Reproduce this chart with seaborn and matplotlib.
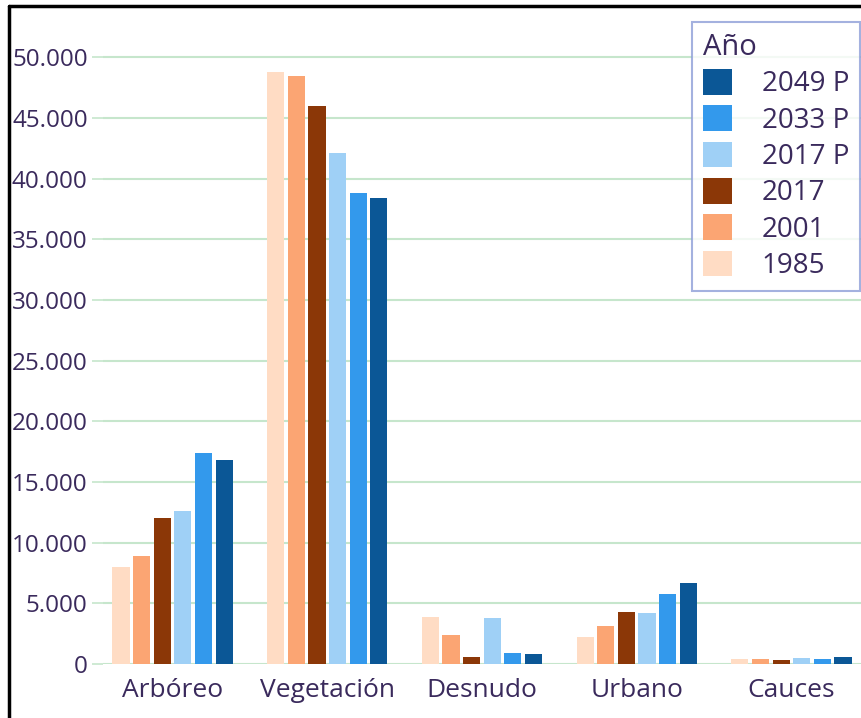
import matplotlib
matplotlib.use('Agg')
import matplotlib.pyplot as plt
import numpy as np
import pandas as pd
import seaborn as sns
from matplotlib.lines import Line2D
from matplotlib.ticker import FuncFormatter

# land cover area by class and year
categories = ['Arbóreo', 'Vegetación', 'Desnudo', 'Urbano', 'Cauces']
years = ['1985', '2001', '2017', '2017 P', '2033 P', '2049 P']
values = {
    '1985':   [8000, 48800, 3850, 2200, 400],
    '2001':   [8900, 48500, 2350, 3100, 420],
    '2017':   [12000, 46000, 550, 4300, 330],
    '2017 P': [12600, 42100, 3770, 4200, 520],
    '2033 P': [17400, 38800, 900, 5750, 420],
    '2049 P': [16800, 38400, 800, 6700, 550],
}
colors = ['#ffdcc4', '#fba573', '#8b3707', '#9fd0f6', '#3399ec', '#0b5796']

text_color = '#3a2a5c'
grid_color = '#c6e6cc'

rows = []
for y in years:
    for cat, v in zip(categories, values[y]):
        rows.append({'clase': cat, 'año': y, 'area': v})
df = pd.DataFrame(rows)

sns.set_style('white')
plt.rcParams['font.family'] = ['Open Sans', 'DejaVu Sans']

fig = plt.figure(figsize=(8.61, 7.18), dpi=100)
ax = fig.add_axes([0.1196, 0.0752, 0.8804, 0.904])

sns.barplot(data=df, x='clase', y='area', hue='año', order=categories,
            hue_order=years, palette=colors, width=0.8, gap=0.17,
            saturation=1, linewidth=0, ax=ax, zorder=3)

ax.set_ylim(0, 53500)
ax.set_xlim(-0.45, 4.45)
ax.set_yticks(np.arange(0, 50001, 5000))
ax.yaxis.set_major_formatter(FuncFormatter(lambda v, p: f'{int(v):,}'.replace(',', '.')))
ax.grid(axis='y', color=grid_color, linewidth=1.5, zorder=0)
ax.grid(axis='x', visible=False)
for s in ax.spines.values():
    s.set_visible(False)
ax.tick_params(axis='y', length=8, width=1.2, color=grid_color, labelsize=17.5,
               labelcolor=text_color, pad=3, left=True)
ax.tick_params(axis='x', length=0, labelsize=19, labelcolor=text_color, pad=10)
ax.set_xlabel('')
ax.set_ylabel('')

handles, labels = ax.get_legend_handles_labels()
leg = fig.legend(handles[::-1], labels[::-1], title='Año', loc='upper right',
                 bbox_to_anchor=(0.999, (718 - 22) / 718), fontsize=20,
                 title_fontsize=21, alignment='left', frameon=True,
                 fancybox=False, handlelength=1.05, handleheight=1.05,
                 handletextpad=1.05, labelspacing=0.25, borderpad=0.4,
                 borderaxespad=0)
ax.get_legend().remove()
leg.get_frame().set_edgecolor('#8e9ed8')
leg.get_frame().set_linewidth(1.5)
leg.get_title().set_color(text_color)
for t in leg.get_texts():
    t.set_color(text_color)

# black frame on top and left
fig.add_artist(Line2D([9 / 861, 1], [1 - 6 / 718, 1 - 6 / 718], color='black',
                      linewidth=2.5, transform=fig.transFigure))
fig.add_artist(Line2D([9 / 861, 9 / 861], [0, 1 - 6 / 718], color='black',
                      linewidth=2.5, transform=fig.transFigure))

fig.savefig('out.png', dpi=100)
